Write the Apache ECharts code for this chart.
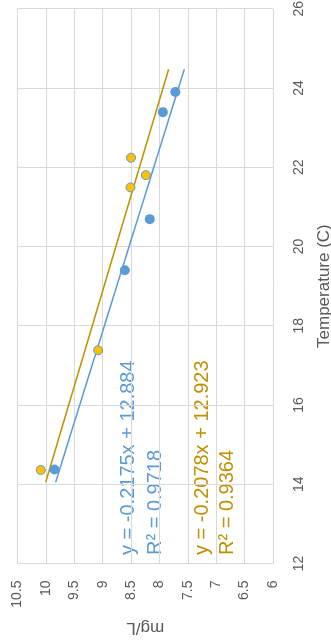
<!DOCTYPE html>
<html>
<head>
<meta charset="utf-8">
<script src="https://cdn.jsdelivr.net/npm/echarts@6/dist/echarts.min.js"></script>
<style>
  html, body { margin: 0; padding: 0; background: #fff; }
  #chart { width: 331px; height: 640px; }
</style>
</head>
<body>
<div id="chart"></div>
<script>
// Dissolved oxygen (mg/L) against water temperature (°C), two sampling sets.
const tempA = [23.9, 23.39, 20.69, 19.4, 14.37];
const oxyA  = [7.72, 7.94, 8.17, 8.61, 9.85];
const tempB = [22.24, 21.8, 21.49, 17.38, 14.36];
const oxyB  = [8.50, 8.24, 8.51, 9.08, 10.09];

// Linear fits as reported: mg/L = slope * T + intercept
const fitA = { slope: -0.2175, intercept: 12.884, r2: '0.9718' };
const fitB = { slope: -0.2078, intercept: 12.923, r2: '0.9364' };
const fitRange = [14.05, 24.47];

const tempTicks = [12, 26, 2];     // min, max, step
const oxyTicks  = [6, 10.5, 0.5];  // min, max, step

const BLUE = '#5B9BD5';
const GOLD = '#FFC000';
const GOLD_LINE = '#BF9000';
const FONT = 'Liberation Sans';

const pts = (t, o) => t.map((v, i) => [o[i], v]);
const fitLine = f => fitRange.map(t => [f.slope * t + f.intercept, t]);
const eqText = f => 'y = ' + f.slope + 'x + ' + f.intercept;

const chart = echarts.init(document.getElementById('chart'), null, { renderer: 'canvas' });

chart.setOption({
  animation: false,
  backgroundColor: '#fff',
  grid: { left: 17.5, right: 58, top: 8.7, bottom: 76.5, containLabel: false, outerBoundsMode: 'none' },
  xAxis: {
    type: 'value',
    inverse: true,
    min: oxyTicks[0], max: oxyTicks[1], interval: oxyTicks[2],
    position: 'bottom',
    name: 'mg/L',
    nameLocation: 'middle',
    nameRotate: 180,
    nameGap: 56,
    nameTextStyle: { color: '#595959', fontSize: 17, fontFamily: FONT },
    axisLine: { show: false },
    axisTick: { show: false },
    axisLabel: { rotate: 90, margin: 17, color: '#595959', fontSize: 14, fontFamily: FONT },
    splitLine: { show: true, lineStyle: { color: '#D9D9D9', width: 1 } }
  },
  yAxis: {
    type: 'value',
    min: tempTicks[0], max: tempTicks[1], interval: tempTicks[2],
    position: 'right',
    name: 'Temperature (C)',
    nameLocation: 'middle',
    nameRotate: 90,
    nameGap: 43,
    nameTextStyle: { color: '#595959', fontSize: 17, fontFamily: FONT },
    axisLine: { show: false },
    axisTick: { show: false },
    axisLabel: { rotate: 90, margin: 19, color: '#595959', fontSize: 14, fontFamily: FONT },
    splitLine: { show: true, lineStyle: { color: '#D9D9D9', width: 1 } }
  },
  series: [
    {
      type: 'line', data: fitLine(fitA), symbol: 'none',
      lineStyle: { color: BLUE, width: 1.5 }, z: 2
    },
    {
      type: 'line', data: fitLine(fitB), symbol: 'none',
      lineStyle: { color: GOLD_LINE, width: 1.5 }, z: 2
    },
    {
      type: 'scatter', data: pts(tempA, oxyA), symbolSize: 10,
      itemStyle: { color: BLUE, opacity: 1 }, z: 3
    },
    {
      type: 'scatter', data: pts(tempB, oxyB), symbolSize: 9,
      itemStyle: { color: GOLD, borderColor: BLUE, borderWidth: 1, opacity: 1 }, z: 3
    }
  ],
  graphic: [
    { type: 'text', x: 128, y: 555, rotation: Math.PI / 2,
      style: { text: eqText(fitA), fill: BLUE, fontSize: 20, fontFamily: FONT, align: 'left', verticalAlign: 'middle' } },
    { type: 'text', x: 155, y: 555, rotation: Math.PI / 2,
      style: { text: 'R² = ' + fitA.r2, fill: BLUE, fontSize: 20, fontFamily: FONT, align: 'left', verticalAlign: 'middle' } },
    { type: 'text', x: 202, y: 555, rotation: Math.PI / 2,
      style: { text: eqText(fitB), fill: GOLD_LINE, fontSize: 20, fontFamily: FONT, align: 'left', verticalAlign: 'middle' } },
    { type: 'text', x: 227, y: 555, rotation: Math.PI / 2,
      style: { text: 'R² = ' + fitB.r2, fill: GOLD_LINE, fontSize: 20, fontFamily: FONT, align: 'left', verticalAlign: 'middle' } }
  ]
});
</script>
</body>
</html>
